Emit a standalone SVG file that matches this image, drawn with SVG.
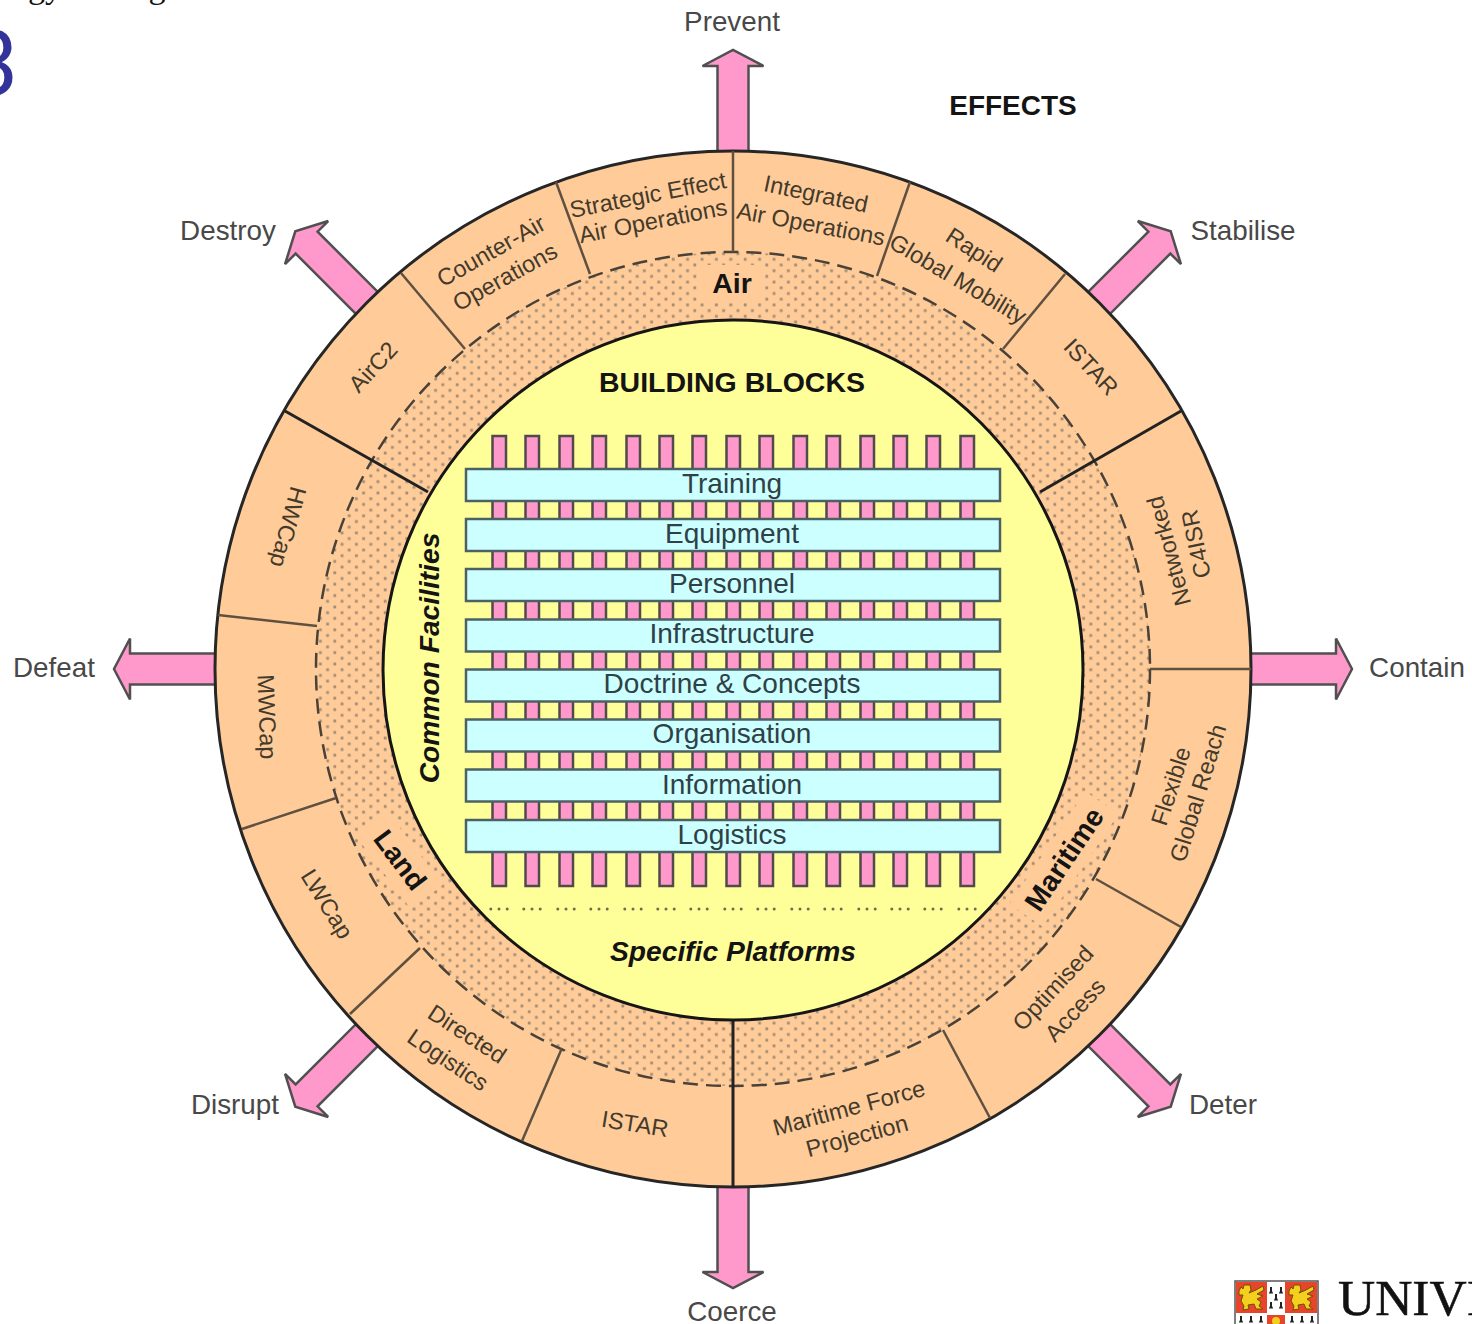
<svg xmlns="http://www.w3.org/2000/svg" width="1472" height="1324" viewBox="0 0 1472 1324">
<style>
text{font-family:"Liberation Sans",Arial,sans-serif;text-anchor:middle;dominant-baseline:central}
.lab{font-size:27.8px;fill:#484848}
.seg{font-size:23.500px;fill:#443a2c}
.bar{font-size:28px;fill:#2f4146}
.hd{font-size:28.500px;font-weight:bold;fill:#141414}
.it{font-size:28.200px;font-weight:bold;font-style:italic;fill:#141414}
.arrow{fill:#ff99cc;stroke:#505050;stroke-width:2.500;stroke-linejoin:miter}
.thin{stroke:#5f5040;stroke-width:2.500;fill:none}
.thick{stroke:#222;stroke-width:3;fill:none}
.pil{fill:#ff99cc;stroke:#504a4a;stroke-width:2.500}
.br{fill:#ccffff;stroke:#4c6164;stroke-width:2.500}
.dots{stroke:#6e6e50;stroke-width:3;stroke-linecap:round;stroke-dasharray:0 8.200;fill:none}
.erm{fill:#222}
</style>
<defs>
<polygon id="arrow" points="-15.5,-515 -15.5,-603 -30.5,-603 0,-619 30.5,-603 15.5,-603 15.5,-515"/>
<pattern id="stipple" width="14.4" height="11.4" patternUnits="userSpaceOnUse">
<rect width="14.4" height="11.4" fill="#ffcc99"/>
<rect x="2.2" y="1.400" width="2.800" height="2.800" fill="#a28d76"/>
<rect x="9.400" y="7.100" width="2.800" height="2.800" fill="#a28d76"/>
</pattern>
<rect id="pillar" class="pil" x="-6.500" y="436" width="13.500" height="450"/>
<line id="dot3" class="dots" x1="-8.200" y1="909" x2="8.300" y2="909"/>
<path id="lion" fill="#f4cf1e" stroke="#6b5200" stroke-width="1" d="M3 9 L5 5 L7 7 L8 3 L14 3 L15 8 L13 11 L20 8 L27 4 L28 8 L21 12 L27 14 L21 17 L25 20 L23 24 L27 27 L20 27 L18 22 L12 23 L13 27 L7 28 L8 24 L5 19 L7 13 L3 13 Z"/>
<path id="erm" class="erm" d="M-1 -3 L1 -3 L1 1 L2.200 3.500 L-2.200 3.500 L-1 1 Z"/>
</defs>

<g id="page-fragments">
<text x="-7" y="64" style="font-size:90px;fill:#333399;font-family:Roboto,sans-serif;font-weight:400">3</text>
<text x="45" y="-14" style="font-size:34px;fill:#111;font-family:'Liberation Serif',serif">gy</text>
<text x="157" y="-14" style="font-size:34px;fill:#111;font-family:'Liberation Serif',serif">g</text>
</g>

<g id="effect-prevent"><use href="#arrow" class="arrow" transform="translate(733 669)"/><text class="lab" x="732" y="21">Prevent</text></g>
<g id="effect-stabilise"><use href="#arrow" class="arrow" transform="translate(733 669) rotate(45)"/><text class="lab" x="1243" y="230">Stabilise</text></g>
<g id="effect-contain"><use href="#arrow" class="arrow" transform="translate(733 669) rotate(90)"/><text class="lab" x="1417" y="667">Contain</text></g>
<g id="effect-deter"><use href="#arrow" class="arrow" transform="translate(733 669) rotate(135)"/><text class="lab" x="1223" y="1104">Deter</text></g>
<g id="effect-coerce"><use href="#arrow" class="arrow" transform="translate(733 669) rotate(180)"/><text class="lab" x="732" y="1311">Coerce</text></g>
<g id="effect-disrupt"><use href="#arrow" class="arrow" transform="translate(733 669) rotate(225)"/><text class="lab" x="235" y="1104">Disrupt</text></g>
<g id="effect-defeat"><use href="#arrow" class="arrow" transform="translate(733 669) rotate(270)"/><text class="lab" x="54" y="667">Defeat</text></g>
<g id="effect-destroy"><use href="#arrow" class="arrow" transform="translate(733 669) rotate(315)"/><text class="lab" x="228" y="230">Destroy</text></g>
<g id="effects-title"><text class="hd" x="1013" y="105" style="font-size:28px">EFFECTS</text></g>

<g id="ring">
<circle cx="733" cy="669" r="518" fill="#ffcc99" stroke="#262626" stroke-width="3"/>
<circle cx="733" cy="669" r="417" fill="url(#stipple)"/>
<rect x="700" y="265" width="65" height="37" fill="#ffcc99"/>
<rect x="-46" y="-20" width="92" height="40" fill="#ffcc99" transform="translate(399 860) rotate(53)"/>
<rect x="-68" y="-20" width="136" height="40" fill="#ffcc99" transform="translate(1064 859) rotate(-56)"/>
<circle cx="733" cy="669" r="417" fill="none" stroke="#4a4238" stroke-width="2.500" stroke-dasharray="15 8"/>
</g>

<g id="connectors">
<line class="thin" x1="733" y1="151" x2="733" y2="252"/>
<line class="thin" x1="556" y1="182" x2="590" y2="274"/>
<line class="thin" x1="401" y1="273" x2="465" y2="349"/>
<line class="thin" x1="218" y1="615" x2="317" y2="626"/>
<line class="thin" x1="242" y1="829" x2="336" y2="798"/>
<line class="thin" x1="350" y1="1014" x2="420" y2="948"/>
<line class="thin" x1="522" y1="1141" x2="562" y2="1048"/>
<line class="thin" x1="990" y1="1118" x2="943" y2="1030"/>
<line class="thin" x1="1181" y1="927" x2="1096" y2="879"/>
<line class="thin" x1="1251" y1="669" x2="1150" y2="669"/>
<line class="thin" x1="1065" y1="274" x2="1003" y2="349"/>
<line class="thin" x1="910" y1="182" x2="877" y2="276"/>
<line class="thick" x1="1040" y1="492" x2="1181" y2="411"/>
<line class="thick" x1="428" y1="492" x2="285" y2="411"/>
<line class="thick" x1="733" y1="1020" x2="733" y2="1187"/>
</g>

<g id="seg-counter-air"><text class="seg" transform="translate(491 251) rotate(-29.5)">Counter-Air</text><text class="seg" transform="translate(505 277) rotate(-29)">Operations</text></g>
<g id="seg-strategic"><text class="seg" transform="translate(648 195) rotate(-11)">Strategic Effect</text><text class="seg" transform="translate(653 221) rotate(-11)">Air Operations</text></g>
<g id="seg-integrated"><text class="seg" transform="translate(816 194) rotate(12)">Integrated</text><text class="seg" transform="translate(811 224) rotate(10.5)">Air Operations</text></g>
<g id="seg-rapid"><text class="seg" transform="translate(974 250) rotate(33)">Rapid</text><text class="seg" transform="translate(958 279) rotate(30.5)">Global Mobility</text></g>
<g id="seg-istar-air"><text class="seg" transform="translate(1091 367) rotate(47)">ISTAR</text></g>
<g id="seg-c4isr"><text class="seg" transform="translate(1169 551) rotate(-105)">Networked</text><text class="seg" transform="translate(1196 544) rotate(-102)">C4ISR</text></g>
<g id="seg-reach"><text class="seg" transform="translate(1171 786) rotate(-72)">Flexible</text><text class="seg" transform="translate(1198 793) rotate(-73)">Global Reach</text></g>
<g id="seg-access"><text class="seg" transform="translate(1053 988) rotate(-47)">Optimised</text><text class="seg" transform="translate(1075 1010) rotate(-47)">Access</text></g>
<g id="seg-mfp"><text class="seg" transform="translate(849 1108) rotate(-15)">Maritime Force</text><text class="seg" transform="translate(857 1136) rotate(-15)">Projection</text></g>
<g id="seg-istar-land"><text class="seg" transform="translate(635 1124) rotate(9)">ISTAR</text></g>
<g id="seg-logistics"><text class="seg" transform="translate(467 1034) rotate(33)">Directed</text><text class="seg" transform="translate(448 1060) rotate(34)">Logistics</text></g>
<g id="seg-lwcap"><text class="seg" transform="translate(327 904) rotate(58)">LWCap</text></g>
<g id="seg-mwcap"><text class="seg" transform="translate(267 717) rotate(88)">MWCap</text></g>
<g id="seg-hwcap"><text class="seg" transform="translate(288 527) rotate(105)">HWCap</text></g>
<g id="seg-airc2"><text class="seg" transform="translate(373 367) rotate(-47)">AirC2</text></g>

<g id="env-air"><text class="hd" x="732" y="283">Air</text></g>
<g id="env-land"><text class="hd" transform="translate(400 860) rotate(53)" style="font-size:28px">Land</text></g>
<g id="env-maritime"><text class="hd" transform="translate(1064 859) rotate(-56)" style="font-size:28.500px">Maritime</text></g>

<g id="core">
<circle cx="733" cy="670" r="350" fill="#ffff99" stroke="#161616" stroke-width="3"/>
</g>
<g id="title-blocks"><text class="hd" x="732" y="382">BUILDING BLOCKS</text></g>
<g id="common-facilities"><text class="it" transform="translate(429 658) rotate(-90)">Common Facilities</text></g>
<g id="specific-platforms"><text class="it" x="733" y="951">Specific Platforms</text></g>

<g id="pillars">
<use href="#pillar" x="499"/><use href="#pillar" x="532"/><use href="#pillar" x="566"/><use href="#pillar" x="599"/><use href="#pillar" x="633"/><use href="#pillar" x="666"/><use href="#pillar" x="699"/><use href="#pillar" x="733"/><use href="#pillar" x="766"/><use href="#pillar" x="800"/><use href="#pillar" x="833"/><use href="#pillar" x="867"/><use href="#pillar" x="900"/><use href="#pillar" x="933"/><use href="#pillar" x="967"/>
</g>
<g id="platform-dots">
<use href="#dot3" x="499"/><use href="#dot3" x="532"/><use href="#dot3" x="566"/><use href="#dot3" x="599"/><use href="#dot3" x="633"/><use href="#dot3" x="666"/><use href="#dot3" x="699"/><use href="#dot3" x="733"/><use href="#dot3" x="766"/><use href="#dot3" x="800"/><use href="#dot3" x="833"/><use href="#dot3" x="867"/><use href="#dot3" x="900"/><use href="#dot3" x="933"/><use href="#dot3" x="967"/>
</g>
<g id="bar-training"><rect class="br" x="466" y="469" width="534" height="32"/><text class="bar" x="732" y="483">Training</text></g>
<g id="bar-equipment"><rect class="br" x="466" y="519" width="534" height="32"/><text class="bar" x="732" y="533">Equipment</text></g>
<g id="bar-personnel"><rect class="br" x="466" y="569" width="534" height="32"/><text class="bar" x="732" y="583">Personnel</text></g>
<g id="bar-infrastructure"><rect class="br" x="466" y="619.500" width="534" height="32"/><text class="bar" x="732" y="633">Infrastructure</text></g>
<g id="bar-doctrine"><rect class="br" x="466" y="669.500" width="534" height="32"/><text class="bar" x="732" y="683">Doctrine &amp; Concepts</text></g>
<g id="bar-organisation"><rect class="br" x="466" y="719.500" width="534" height="32"/><text class="bar" x="732" y="733">Organisation</text></g>
<g id="bar-information"><rect class="br" x="466" y="769.500" width="534" height="32"/><text class="bar" x="732" y="784">Information</text></g>
<g id="bar-logistics"><rect class="br" x="466" y="820" width="534" height="32"/><text class="bar" x="732" y="834">Logistics</text></g>

<g id="logo">
<rect x="1235" y="1281" width="83" height="50" fill="#fff" stroke="#555" stroke-width="1.500"/>
<rect x="1236" y="1282" width="31" height="31" fill="#e8432b"/>
<rect x="1285" y="1282" width="32" height="31" fill="#e8432b"/>
<use href="#lion" x="1236" y="1282"/>
<use href="#lion" x="1286" y="1282"/>
<use href="#erm" x="1271" y="1290"/><use href="#erm" x="1281" y="1290"/><use href="#erm" x="1276" y="1297"/><use href="#erm" x="1271" y="1305"/><use href="#erm" x="1281" y="1305"/>
<use href="#erm" x="1241" y="1319"/><use href="#erm" x="1251" y="1319"/><use href="#erm" x="1261" y="1319"/><use href="#erm" x="1292" y="1319"/><use href="#erm" x="1302" y="1319"/><use href="#erm" x="1312" y="1319"/>
<rect x="1267" y="1315" width="18" height="12" fill="#e8432b"/>
<circle cx="1276" cy="1321" r="4" fill="#f4cf1e"/>
<text x="1338" y="1315" transform="translate(1338 0) scale(1.03 1) translate(-1338 0)" style="font-family:'Liberation Serif',serif;font-size:50px;fill:#111;stroke:#111;stroke-width:0.5;text-anchor:start;dominant-baseline:alphabetic">UNIVI</text>
</g>
</svg>
